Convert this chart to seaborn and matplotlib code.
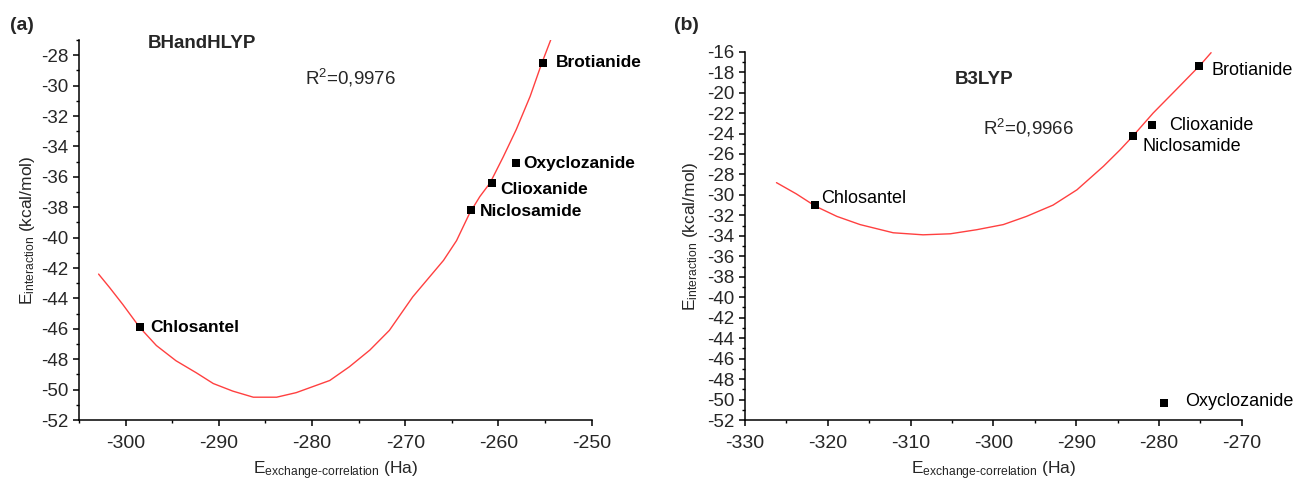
import numpy as np
import pandas as pd
import matplotlib
matplotlib.use("Agg")
import matplotlib.pyplot as plt
from matplotlib.ticker import MultipleLocator
import seaborn as sns

# ---------------- data ----------------
compounds = ["Brotianide", "Oxyclozanide", "Clioxanide", "Niclosamide", "Chlosantel"]

# (a) BHandHLYP
exc_a = [-255.2, -258.1, -260.7, -263.0, -298.5]
eint_a = [-28.5, -35.1, -36.4, -38.2, -45.9]
fit_x_a = [-302.9, -301.7, -300.3, -298.5, -296.7, -294.6, -292.4, -290.6,
           -288.5, -286.3, -283.8, -281.7, -278.1, -276.0, -273.8, -271.7,
           -269.2, -265.9, -264.5, -263.1, -262.0, -260.9, -259.5, -258.1,
           -256.6, -255.4, -254.4]
fit_y_a = [-42.4, -43.3, -44.4, -45.9, -47.1, -48.1, -48.9, -49.6,
           -50.1, -50.5, -50.5, -50.2, -49.4, -48.5, -47.4, -46.1,
           -43.9, -41.5, -40.2, -38.4, -37.3, -36.4, -34.7, -32.9,
           -30.7, -28.6, -27.0]

# (b) B3LYP
exc_b = [-275.1, -279.4, -280.8, -283.1, -321.5]
eint_b = [-17.4, -50.3, -23.2, -24.2, -31.0]
fit_x_b = [-326.2, -323.8, -321.5, -318.9, -316.1, -312.1, -308.5, -305.2,
           -302.0, -298.8, -296.0, -292.8, -289.9, -286.7, -284.7, -283.2,
           -280.7, -277.9, -275.0, -273.7]
fit_y_b = [-28.8, -29.9, -31.1, -32.1, -32.9, -33.7, -33.9, -33.8,
           -33.4, -32.9, -32.1, -31.0, -29.5, -27.2, -25.6, -24.3,
           -22.0, -19.7, -17.3, -16.1]

# ---------------- style ----------------
sns.set_theme(style="ticks")
plt.rcParams["font.family"] = ["Liberation Sans", "DejaVu Sans"]
plt.rcParams["mathtext.fontset"] = "custom"
plt.rcParams["mathtext.rm"] = "Liberation Sans"
plt.rcParams["mathtext.it"] = "Liberation Sans"
plt.rcParams["mathtext.bf"] = "Liberation Sans:bold"
plt.rcParams["axes.linewidth"] = 1.1
plt.rcParams["axes.unicode_minus"] = False

fig = plt.figure(figsize=(12.96, 4.84), dpi=100)
ax_a = fig.add_axes([0.06096, 0.13223, 0.3956, 0.7851])
ax_b = fig.add_axes([0.57485, 0.13223, 0.38326, 0.7610])

ylab = r"E$_{\mathregular{interaction}}$ (kcal/mol)"
xlab = r"E$_{\mathregular{exchange\text{-}correlation}}$ (Ha)"


def panel(ax, exc, eint, fx, fy, xlim, ylim, xmaj, ymaj, offsets, bold_labels, ylabelpad):
    df_fit = pd.DataFrame({"x": fx, "y": fy})
    sns.lineplot(data=df_fit, x="x", y="y", ax=ax, color="#ff4040", lw=1.0,
                 sort=False, estimator=None)
    df = pd.DataFrame({"x": exc, "y": eint, "name": compounds})
    sns.scatterplot(data=df, x="x", y="y", ax=ax, marker="s", s=26,
                    color="black", edgecolor="black", linewidth=0, zorder=5)
    for (x, y, n), (dx, dy) in zip(zip(exc, eint, compounds), offsets):
        ax.annotate(n, (x, y), xytext=(dx, dy), textcoords="offset pixels",
                    ha="left", va="center", fontsize=12.5 if bold_labels else 13,
                    fontweight="bold" if bold_labels else "normal", color="black")
    ax.set_xlim(*xlim)
    ax.set_ylim(*ylim)
    ax.xaxis.set_major_locator(MultipleLocator(xmaj))
    ax.xaxis.set_minor_locator(MultipleLocator(xmaj / 2))
    ax.yaxis.set_major_locator(MultipleLocator(ymaj))
    ax.yaxis.set_minor_locator(MultipleLocator(1))
    ax.tick_params(axis="both", which="major", direction="out", length=4.5,
                   width=1.1, color="black")
    ax.tick_params(axis="both", which="minor", direction="out", length=2.5,
                   width=1.0, color="black")
    ax.tick_params(axis="x", which="major", labelsize=14, pad=6)
    ax.tick_params(axis="y", which="major", labelsize=13.5, pad=3)
    ax.set_xlabel(xlab, fontsize=12.5, labelpad=5.5)
    ax.set_ylabel(ylab, fontsize=12.5, labelpad=ylabelpad)
    sns.despine(ax=ax)
    for s in ("left", "bottom"):
        ax.spines[s].set_color("black")


# label offsets (pixels) in order of compounds list
off_a = [(13, 0), (7, 0), (8, -7), (9, -1), (11, 0)]
off_b = [(12, -4), (21, 1), (17, 0), (9, -11), (6, 7)]

panel(ax_a, exc_a, eint_a, fit_x_a, fit_y_a, (-305, -250), (-52, -27), 10, 2,
      off_a, True, 3)
panel(ax_b, exc_b, eint_b, fit_x_b, fit_y_b, (-330, -270), (-52, -16), 10, 2,
      off_b, False, 5)

ax_a.text(0.1346, 0.992, "BHandHLYP", transform=ax_a.transAxes, fontsize=13.5,
          fontweight="bold", ha="left", va="center")
ax_a.text(0.4408, 0.90, r"R$^{2}$=0,9976", transform=ax_a.transAxes, fontsize=13.5,
          ha="left", va="center")
ax_b.text(0.4214, 0.925, "B3LYP", transform=ax_b.transAxes, fontsize=13.5,
          fontweight="bold", ha="left", va="center")
ax_b.text(0.4786, 0.792, r"R$^{2}$=0,9966", transform=ax_b.transAxes, fontsize=13.5,
          ha="left", va="center")

fig.text(0.0077, 1 - 25 / 484, "(a)", fontsize=14, fontweight="bold", ha="left", va="center")
fig.text(0.520, 1 - 25 / 484, "(b)", fontsize=14, fontweight="bold", ha="left", va="center")

fig.savefig("out.png", dpi=100)
